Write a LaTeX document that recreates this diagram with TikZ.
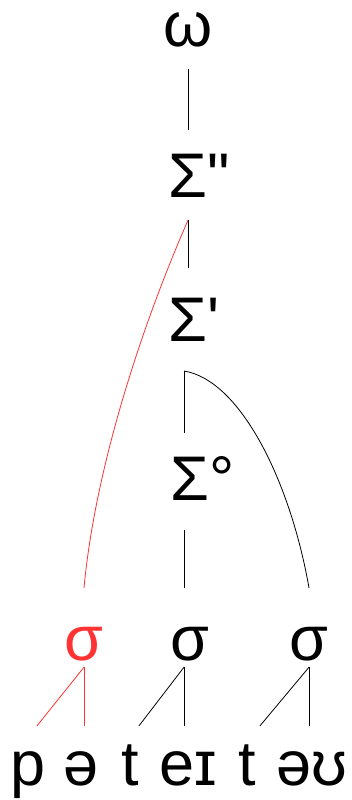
\documentclass[tikz,border=0pt]{standalone}
\usepackage{fontspec}
\setmainfont{Liberation Sans}[Ligatures=TeXOff]
\usetikzlibrary{positioning,calc}
\definecolor{stress}{RGB}{255,51,51}

\begin{document}
\begin{tikzpicture}[x=1pt, y=-1pt,
        greek/.style={inner xsep=0pt, text depth=0pt, anchor=base, font=\fontsize{63}{70}\selectfont},
        foot/.style={greek, inner ysep=23pt, text height=44pt},
        syll/.style={greek, inner ysep=7pt, text height=65pt},
        seg/.style={greek, inner ysep=0pt, text height=59pt},
        link/.style={line width=0.8pt, draw=black},
        head/.style={line width=0.8pt, draw=stress},
      ]
      \useasboundingbox (0,0) rectangle (352,800);
      % prosodic levels
      \node [greek, inner ysep=0pt, text height=34pt] (omega) at (188, 47) {ω};
      \node [foot] (foot2) at (188, 197) {Σ\rlap{\symbol{34}}};
      \node [foot] (foot1) at (188, 341) {Σ\rlap{\symbol{39}}};
      \coordinate (fork) at (184, 371);
      \node [foot] (foot0) at (190, 500) {Σ\rlap{°}};
      % syllables
      \node [syll, text=stress] (syl1) at (84, 660) {σ};
      \node [syll] (syl2) at (190, 660) {σ};
      \node [syll] (syl3) at (309, 660) {σ};
      % segments
      \node [seg] (p) at (28, 785) {p};
      \node [seg] (schwa) at (81, 785) {ə};
      \node [seg] (t1) at (130, 785) {t};
      \node [seg] (ei) at (188, 785) {eɪ};
      \node [seg] (t2) at (247, 785) {t};
      \node [seg] (ou) at (312, 785) {əʊ};
      % tree
      \draw [link, shorten <=22pt] (omega.south) -- (omega.south |- foot2.north);
      \draw [link, shorten >=6pt] (foot2.south) -- (foot1.north);
      \draw [head] (foot2.south) .. controls (140, 330) and (95, 470) .. (syl1.north);
      \draw [link] (fork) -- (fork |- foot0.north);
      \draw [link] (fork) .. controls (240, 380) and (290, 480) .. (syl3.north);
      \draw [link, shorten <=7pt] (foot0.south -| fork) -- (fork |- syl2.north);
      % syllables to segments
      \draw [head] (syl1.south) -- ([xshift=9pt]p.north);
      \draw [head] (syl1.south) -- (syl1.south |- schwa.north);
      \draw [link] (syl2.south -| fork) -- ([xshift=9pt]t1.north);
      \draw [link] (syl2.south -| fork) -- (fork |- ei.north);
      \draw [link] (syl3.south) -- ([xshift=13pt]t2.north);
      \draw [link] (syl3.south) -- (syl3.south |- ou.north);
    \end{tikzpicture}
\end{document}
